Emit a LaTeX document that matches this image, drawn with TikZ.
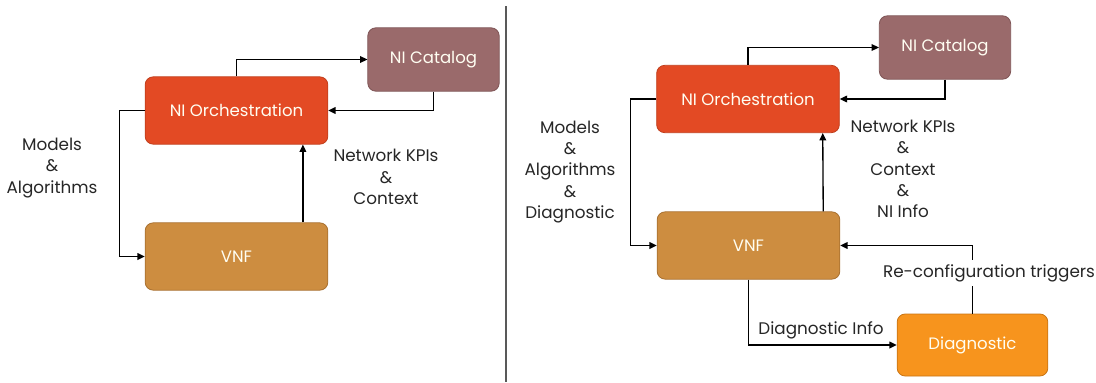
\documentclass[tikz,border=0pt]{standalone}
\usepackage{fontspec}
\setmainfont{Poppins}
\usetikzlibrary{arrows.meta}

\definecolor{orchred}{HTML}{E34A24}
\definecolor{orchline}{HTML}{C03E1C}
\definecolor{catmauve}{HTML}{9A6A6B}
\definecolor{catline}{HTML}{7E5455}
\definecolor{vnfbrown}{HTML}{CD8D40}
\definecolor{vnfline}{HTML}{A87030}
\definecolor{diagorange}{HTML}{F7941D}
\definecolor{diagline}{HTML}{C87414}
\definecolor{labelgray}{HTML}{262626}

\tikzset{every picture/.style={line width=1pt}}
\tikzset{
  block/.style={rounded corners=6pt, line width=0.6pt, text=white!95!yellow, font=\fontsize{12.4}{14}\selectfont, inner sep=0pt},
  orchbox/.style={block, fill=orchred, draw=orchline, minimum width=137pt, minimum height=50.5pt},
  catbox/.style={block, fill=catmauve, draw=catline, minimum width=98.5pt, minimum height=47.5pt},
  vnfbox/.style={block, fill=vnfbrown, draw=vnfline, minimum width=137pt, minimum height=50.5pt},
  diagbox/.style={block, fill=diagorange, draw=diagline, minimum width=113pt, minimum height=46.5pt},
  lbl/.style={text=labelgray, align=center, inner sep=0.75pt, font=\fontsize{12.6}{16}\selectfont},
  flow/.style={-{Triangle[length=5.5pt,width=5pt]}, draw=black}
}

\begin{document}
\begin{tikzpicture}[x=0.75pt,y=0.75pt,yscale=-1,xscale=1]
\path[use as bounding box] (0,0) rectangle (1096,382);

%Straight Lines (divider)
\draw[draw=black!65, line width=1.2pt] (506,6) -- (506,382);

%%%% left part
% Blocks
\node[orchbox] (orchL) at (236.5,110.5) {NI Orchestration};
\node[catbox] (catL) at (433.5,59.5) {NI Catalog};
\node[vnfbox] (vnfL) at (236.5,256.5) {VNF};

% Connectors
\draw[flow] (orchL.north) |- (catL.west);
\draw[flow] (catL.south) |- (orchL.east);
\draw[flow] (orchL.west) -- ++(-25,0) |- (vnfL.west);
\draw[flow] ([xshift=-19pt]vnfL.north east) -- ([xshift=-19pt]orchL.south east);

% Text Node
\node[lbl] (modelsL) at (52,168) {Models\\\&\\Algorithms};
% Text Node
\node[lbl] (kpiL) at (386,177) {Network KPIs\\\&\\Context};

%%%% right part
% Blocks
\node[orchbox] (orchR) at (748,99) {NI Orchestration};
\node[catbox] (catR) at (945,47.5) {NI Catalog};
\node[vnfbox] (vnfR) at (748.5,245.5) {VNF};
\node[diagbox] (diagR) at (972.5,345) {Diagnostic};

% Connectors
\draw[flow] (orchR.north) |- (catR.west);
\draw[flow] (catR.south) |- (orchR.east);
\draw[flow] (orchR.west) -- ++(-26,0) |- (vnfR.west);
\draw[flow] ([xshift=-12.75pt]vnfR.north east) -- ([xshift=-12.75pt]orchR.south east);
\draw[flow] (vnfR.south) |- (diagR.west);
\draw[flow] (diagR.north) |- (vnfR.east);

% Text Node
\node[lbl] (modelsR) at (570,172) {Models\\\&\\Algorithms\\\&\\Diagnostic};
% Text Node
\node[lbl] (kpiR) at (903,169) {Network KPIs\\\&\\Context\\\&\\NI Info};
% Text Node
\node[lbl] (diaginfo) at (821,330) {Diagnostic Info};
% Text Node
\node[lbl, fill=white, inner sep=3pt] (trigger) at (989,273) {Re-configuration triggers};

\end{tikzpicture}
\end{document}
